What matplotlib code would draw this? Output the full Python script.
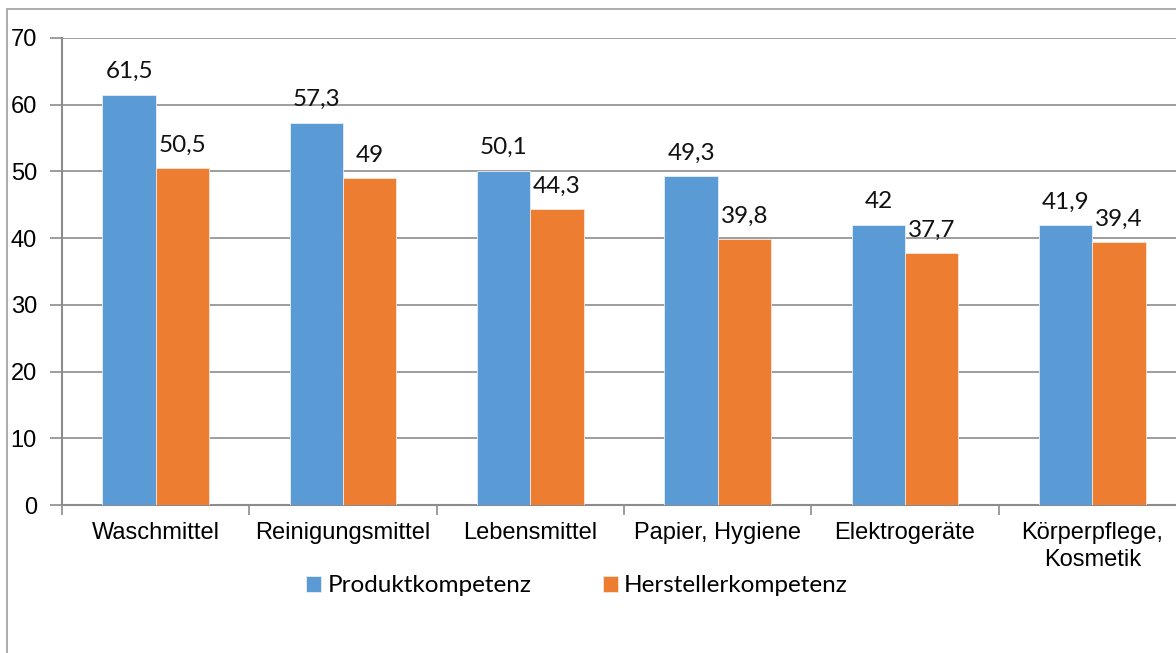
import numpy as np
import matplotlib.pyplot as plt
from matplotlib.patches import Rectangle

kategorien = ["Waschmittel", "Reinigungsmittel", "Lebensmittel", "Papier, Hygiene",
              "Elektrogeräte", "Körperpflege,\nKosmetik"]
produkt = [61.5, 57.3, 50.1, 49.3, 42, 41.9]
hersteller = [50.5, 49, 44.3, 39.8, 37.7, 39.4]
y_ticks = [0, 10, 20, 30, 40, 50, 60, 70]

blau = "#5B9BD5"
orange = "#ED7D31"
grau = "#8c8c8c"


def fmt(v):
    # deutsche Schreibweise mit Komma
    s = f"{v:g}"
    return s.replace(".", ",")


fig = plt.figure(figsize=(11.76, 6.53), dpi=100)
ax = fig.add_axes([62 / 1176, 1 - 505 / 653, 1124 / 1176, 467 / 653])

# Rahmen um das Diagramm (rechts/unten abgeschnitten)
fig.patches.append(Rectangle((7 / 1176, -0.2), 1.5, 1.2 - 9 / 653, transform=fig.transFigure,
                             fill=False, edgecolor="#a6a6a6", linewidth=1.3))

x = np.arange(len(kategorien))
b = 0.284
bars1 = ax.bar(x - b / 2, produkt, b, color=blau, edgecolor="#e8eef5", linewidth=0.6,
               label="Produktkompetenz", zorder=3)
bars2 = ax.bar(x + b / 2, hersteller, b, color=orange, edgecolor="#f5e6dc", linewidth=0.6,
               label="Herstellerkompetenz", zorder=3)

for bars, werte in [(bars1, produkt), (bars2, hersteller)]:
    ax.bar_label(bars, labels=[fmt(v) for v in werte], padding=9,
                 fontsize=17.5, family="Lato", color="#111111")

ax.set_xlim(-0.5, len(kategorien) - 0.5)
ax.set_ylim(0, 70)
ax.set_yticks(y_ticks)
ax.set_yticklabels([str(t) for t in y_ticks], fontsize=17, family="Liberation Sans")
ax.yaxis.grid(True, color=grau, linewidth=1.2, zorder=0)

ax.set_xticks(x)
ax.set_xticklabels(kategorien, fontsize=17, family="Liberation Sans", linespacing=1.3)
ax.set_xticks(np.arange(-0.5, len(kategorien)), minor=True)
ax.tick_params(axis="x", which="major", length=0, pad=12)
ax.tick_params(axis="x", which="minor", length=7, color=grau, width=1.2)
ax.tick_params(axis="y", length=9, color=grau, width=1.2, pad=9)

for s in ["top", "right"]:
    ax.spines[s].set_visible(False)
for s in ["left", "bottom"]:
    ax.spines[s].set_color(grau)
    ax.spines[s].set_linewidth(1.5)

fig.legend(handles=[bars1, bars2], loc="center", bbox_to_anchor=(577 / 1176, 1 - 586 / 653),
           ncol=2, frameon=False, prop={"family": "Lato", "size": 17.5},
           handlelength=0.62, handleheight=0.6, handletextpad=0.25, columnspacing=2.95)

plt.savefig("out.png", dpi=100)
plt.close()
